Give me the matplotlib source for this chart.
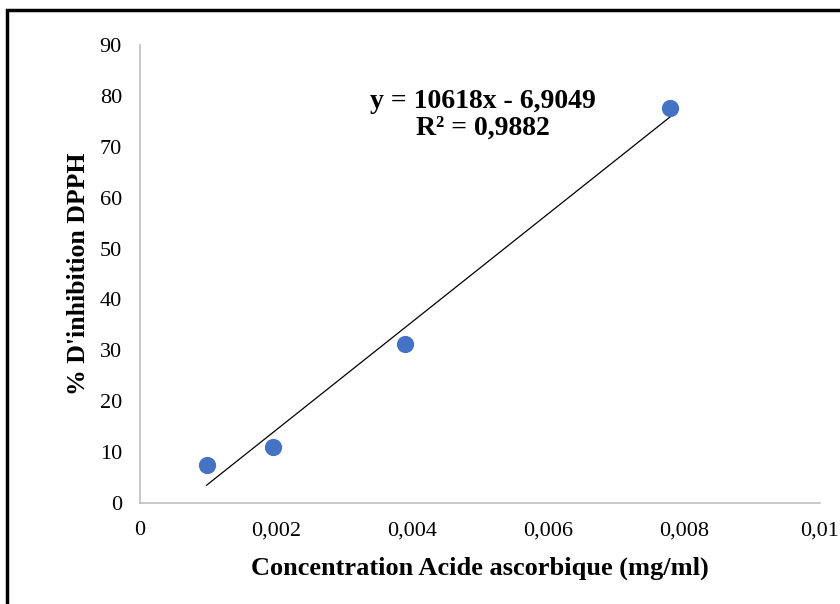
import numpy as np
import matplotlib.pyplot as plt
from matplotlib.patches import Rectangle
from matplotlib.ticker import FuncFormatter

conc = [0.00098, 0.00195, 0.0039, 0.0078]
inhib = [7.4, 11.0, 31.2, 77.7]
slope = 10618
intercept = -6.9049
eq_text = "y = 10618x - 6,9049\nR\u00b2 = 0,9882"

plt.rcParams['font.family'] = ['Liberation Serif', 'DejaVu Serif']

fig = plt.figure(figsize=(8.4, 6.04), dpi=100)
ax = fig.add_axes([140/840, 1-503/604, 680/840, 458/604])

ax.scatter(conc, inhib, s=130, color='#4472C4', zorder=3)
xl = np.array([conc[0], conc[-1]])
ax.plot(xl, slope*xl + intercept, color='black', lw=0.9)

ax.set_xlim(0, 0.01)
ax.set_ylim(0, 90)
ax.set_xticks(np.arange(0, 0.0101, 0.002))
ax.set_yticks(range(0, 91, 10))
ax.xaxis.set_major_formatter(FuncFormatter(lambda v, p: '0' if v == 0 else ('%g' % round(v, 4)).replace('.', ',')))
ax.tick_params(length=0, labelsize=16, pad=13)
for s in ['top', 'right']:
    ax.spines[s].set_visible(False)
for s in ['left', 'bottom']:
    ax.spines[s].set_color('#BFBFBF')
    ax.spines[s].set_linewidth(1.2)

ax.set_xlabel('Concentration Acide ascorbique (mg/ml)', fontsize=19, fontweight='bold', labelpad=12)
ax.set_ylabel("% D'inhibition DPPH", fontsize=18.5, fontweight='bold', labelpad=7)

ax.text(0.00505, 76.3, eq_text, ha='center', va='center', fontsize=20, fontweight='bold', linespacing=1.05)

fig.patches.append(Rectangle((7/840, -0.05), 1.0, 1-10/604+0.05, transform=fig.transFigure,
                             fill=False, edgecolor='black', lw=2.5))

fig.savefig('out.png', dpi=100)
